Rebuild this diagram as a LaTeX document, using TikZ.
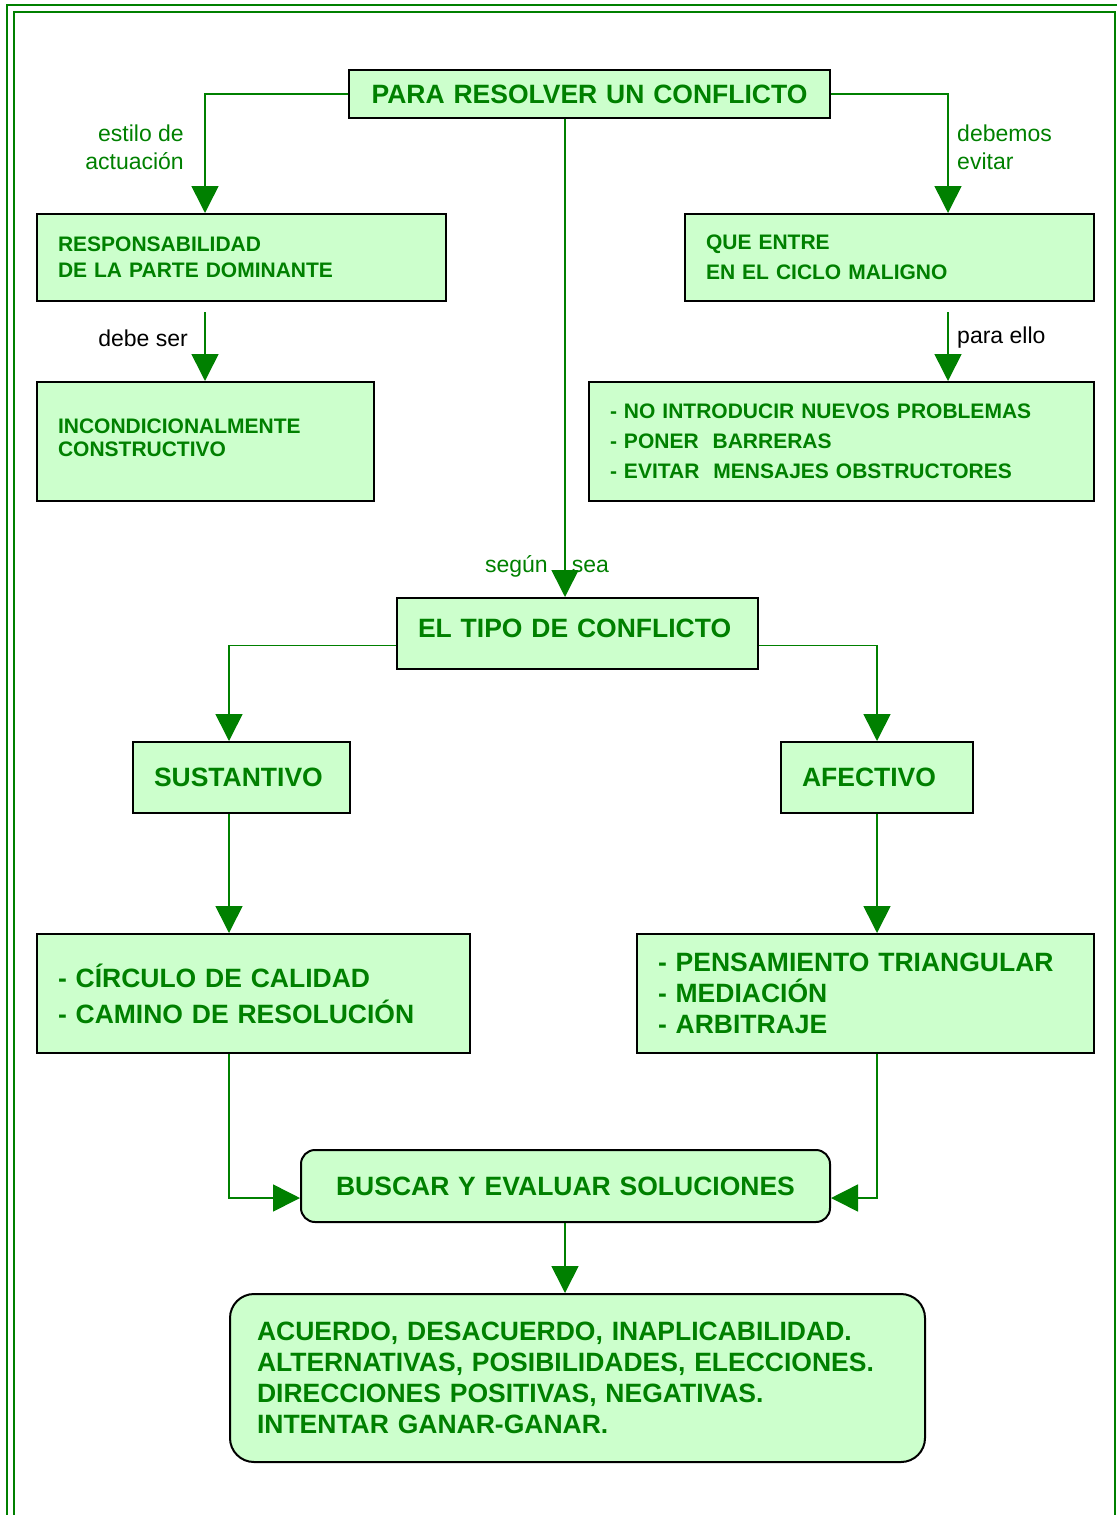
\documentclass[tikz,border=0pt]{standalone}
\usepackage{fontspec}
\setmainfont{Liberation Sans}
\usepackage{tikz}
\usetikzlibrary{arrows.meta,positioning}
\definecolor{verde}{HTML}{008000}
\definecolor{fondo}{HTML}{CCFFCC}
\newcommand{\letraG}{\fontsize{26.5bp}{31bp}\selectfont\bfseries}
\newcommand{\letraP}{\fontsize{21bp}{26bp}\selectfont\bfseries}
\newcommand{\letraE}{\fontsize{23bp}{28bp}\selectfont}
\tikzset{caja/.style={draw=black,line width=2bp,fill=fondo,text=verde,
    anchor=north west,inner xsep=21bp,inner ysep=0pt,align=left},
  redonda/.style={caja,rounded corners=14bp},
  flecha/.style={draw=verde,line width=1.6bp,-{Triangle[length=27bp,width=27bp]}},
  etiq/.style={text=verde,font=\letraE,inner sep=0pt}}

\begin{document}
\begin{tikzpicture}[x=1bp,y=-1bp]
\useasboundingbox (0,0) rectangle (1117,1515);

% marco
\draw[verde,line width=1.2bp] (7,1515) -- (7,5) -- (1117,5);
\draw[verde,line width=1.2bp] (14,1515) -- (14,12) -- (1115,12) -- (1115,1515);

% columnas de las flechas
\coordinate (colL) at (205,0);
\coordinate (colR) at (948,0);
\coordinate (mid) at (565,0);
\coordinate (colS) at (229,0);
\coordinate (colA) at (877,0);

\node[caja,align=center,text width=439bp,minimum height=48bp,font=\letraG]
  (T) at (348,69) {PARA RESOLVER UN CONFLICTO};

\node[caja,text width=367bp,minimum height=87bp,font=\letraP]
  (R1) at (36,213) {RESPONSABILIDAD\\DE LA PARTE DOMINANTE};
\node[caja,text width=295bp,minimum height=119bp,font=\letraP]
  (C1) at (36,381) {INCONDICIONALMENTE\\[-3bp]CONSTRUCTIVO\rule[-8bp]{0pt}{0pt}};

\node[caja,text width=367bp,minimum height=87bp,font=\letraP]
  (Q) at (684,213) {QUE ENTRE\\[4bp]EN EL CICLO MALIGNO};
\node[caja,text width=463bp,minimum height=119bp,font=\letraP]
  (N) at (588,381) {- NO INTRODUCIR NUEVOS PROBLEMAS\\[4bp]- PONER\ \ BARRERAS\\[4bp]- EVITAR\ \ MENSAJES OBSTRUCTORES};

\node[caja,text width=319bp,minimum height=71bp,font=\letraG]
  (E) at (396,597) {EL TIPO DE CONFLICTO\\[-20bp]\mbox{}};

\node[caja,text width=175bp,minimum height=71bp,font=\letraG]
  (S) at (132,741) {SUSTANTIVO};
\node[caja,text width=150bp,minimum height=71bp,font=\letraG]
  (A) at (780,741) {AFECTIVO};

\node[caja,text width=391bp,minimum height=119bp,font=\letraG]
  (CC) at (36,933) {- CÍRCULO DE CALIDAD\\[5bp]- CAMINO DE RESOLUCIÓN};
\node[caja,text width=415bp,minimum height=119bp,font=\letraG]
  (P) at (636,933) {- PENSAMIENTO TRIANGULAR\\- MEDIACIÓN\\- ARBITRAJE};

\node[redonda,align=center,text width=487bp,minimum height=72bp,font=\letraG]
  (B) at (300,1149) {BUSCAR Y EVALUAR SOLUCIONES};
\node[redonda,rounded corners=24bp,inner xsep=27bp,text width=641bp,minimum height=168bp,font=\letraG]
  (F) at (229,1293) {ACUERDO, DESACUERDO, INAPLICABILIDAD.\\ALTERNATIVAS, POSIBILIDADES, ELECCIONES.\\DIRECCIONES POSITIVAS, NEGATIVAS.\\INTENTAR GANAR-GANAR.};

% etiquetas
\node[etiq,anchor=east,align=right] (l1) at (184,147) {estilo de\\actuación};
\node[etiq,anchor=west,align=left] (l2) at (957,147) {debemos\\evitar};
\node[etiq,anchor=east,text=black] (l3) at (188,338) {debe ser};
\node[etiq,anchor=west,text=black] (l4) at (957,338) {para ello};
\node[etiq] (l5) at (547,566) {según\hspace{24bp}sea};

% flechas
\draw[flecha] (T.west) -| (colL |- R1.north);
\draw[flecha] (T.east) -| (colR |- Q.north);
\draw[flecha] ([yshift=-10bp]R1.south -| colL) -- (colL |- C1.north);
\draw[flecha] ([yshift=-10bp]Q.south -| colR) -- (colR |- N.north);
\draw[flecha] (mid |- T.south) -- (mid |- E.north);
\draw[flecha] ([yshift=-12bp]E.west) -| (colS |- S.north);
\draw[flecha] ([yshift=-12bp]E.east) -| (colA |- A.north);
\draw[flecha] (colS |- S.south) -- (colS |- CC.north);
\draw[flecha] (colA |- A.south) -- (colA |- P.north);
\draw[flecha] (colS |- CC.south) |- ([yshift=-12bp]B.west);
\draw[flecha] (colA |- P.south) |- ([yshift=-12bp]B.east);
\draw[flecha] (mid |- B.south) -- (mid |- F.north);
\end{tikzpicture}
\end{document}
